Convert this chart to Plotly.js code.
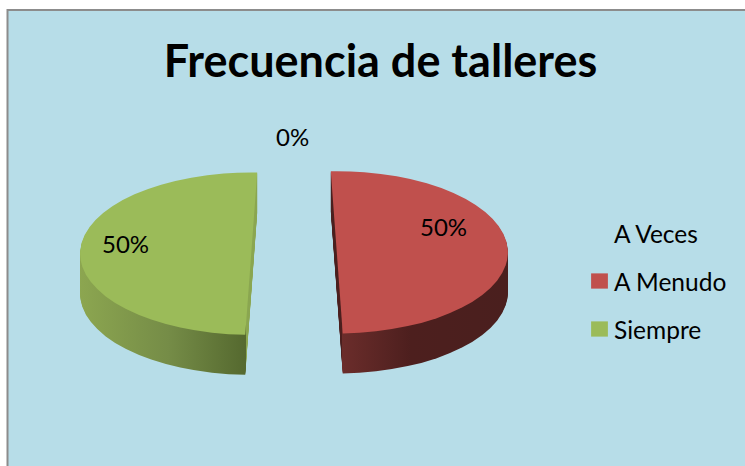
<!DOCTYPE html>
<html>
<head>
<meta charset="utf-8">
<script src="https://cdn.plot.ly/plotly-3.0.1.min.js"></script>
<style>html,body{margin:0;padding:0;background:#fff;overflow:hidden}#chart{width:745px;height:466px}</style>
</head>
<body>
<div id="chart"></div>
<script>
var chartTitle = 'Frecuencia de talleres';
var categories = ['A Veces', 'A Menudo', 'Siempre'];
var values = [0, 50, 50];
var sliceColors = ['rgba(0,0,0,0)', '#C0504D', '#9BBB59'];
var labelPixels = [[292, 136], [443, 226], [125, 243]];
var W = 745, H = 466;
var tilt = 0.474, depth = 40, centerY = 253, mirrorTurn = 4;

var total = values.reduce(function (a, b) { return a + b; }, 0);
var annotations = categories.map(function (c, i) {
  return {
    xref: 'paper', yref: 'paper',
    x: labelPixels[i][0] / W, y: 1 - labelPixels[i][1] / H,
    xanchor: 'center', yanchor: 'middle', showarrow: false,
    text: Math.round(values[i] / total * 100) + '%',
    font: { family: 'Lato, sans-serif', size: 24, color: '#000' }
  };
});

var data = [{
  type: 'pie',
  labels: categories,
  values: values,
  sort: false,
  direction: 'clockwise',
  rotation: -2,
  pull: 0.25,
  textinfo: 'none',
  hoverinfo: 'none',
  marker: { colors: sliceColors, line: { width: 0 } },
  domain: { x: [80 / W, 508 / W], y: [0, 1] }
}];

var layout = {
  width: W, height: H,
  margin: { l: 0, r: 0, t: 0, b: 0 },
  paper_bgcolor: '#ffffff',
  title: {
    text: '<b>' + chartTitle + '</b>',
    x: 380.5 / W, xanchor: 'center', xref: 'paper',
    y: 1 - 61 / H, yanchor: 'middle', yref: 'paper',
    font: { family: 'Lato, sans-serif', size: 45, color: '#000' }
  },
  shapes: [{
    type: 'rect', xref: 'paper', yref: 'paper', layer: 'below',
    x0: 7.5 / W, x1: 1.02, y0: -0.02, y1: 1 - 10 / H,
    fillcolor: '#B7DDE8', line: { color: '#8C8C8C', width: 2 }
  }],
  annotations: annotations,
  showlegend: true,
  legend: {
    x: 570 / W, y: 1 - 216 / H, xanchor: 'left', yanchor: 'top',
    bgcolor: 'rgba(0,0,0,0)',
    font: { family: 'Lato, sans-serif', size: 24.5, color: '#000' }
  }
};

var svgNS = 'http://www.w3.org/2000/svg';
function addGradient(svg, id, stops, attrs) {
  var defs = svg.querySelector('defs') || svg.insertBefore(document.createElementNS(svgNS, 'defs'), svg.firstChild);
  var g = document.createElementNS(svgNS, 'linearGradient');
  g.setAttribute('id', id);
  Object.keys(attrs).forEach(function (k) { g.setAttribute(k, attrs[k]); });
  stops.forEach(function (s) {
    var st = document.createElementNS(svgNS, 'stop');
    st.setAttribute('offset', s[0]); st.setAttribute('stop-color', s[1]);
    g.appendChild(st);
  });
  defs.appendChild(g);
}

Plotly.newPlot('chart', data, layout, { staticPlot: true, displayModeBar: false }).then(function (gd) {
  var svg = gd.querySelector('.main-svg');
  var pieLayer = gd.querySelector('.pielayer');
  var trace = pieLayer.querySelector('.trace');

  function isRed(p) { return /192|c0504d/i.test(p.style.fill); }
  function isGreen(p) { return /155|9bbb59/i.test(p.style.fill); }

  // turn the green slice about its own apex so its cut edge mirrors the red one
  var apex = null;
  trace.querySelectorAll('.slice path').forEach(function (p) {
    if (!isGreen(p)) return;
    var m = p.getAttribute('d').match(/M\s*([-\d.]+)[ ,]+([-\d.]+)/);
    apex = [parseFloat(m[1]), parseFloat(m[2])];
    p.parentNode.setAttribute('transform', 'rotate(' + mirrorTurn + ' ' + apex[0] + ' ' + apex[1] + ')');
  });

  addGradient(svg, 'sideRed',
    [[0, '#4A1F1E'], [0.062, '#4A1F1E'], [0.063, '#6B2D2B'], [0.45, '#4D1F1E'], [1, '#4A1F1E']],
    { x1: 0, x2: 1, y1: 0, y2: 0 });
  addGradient(svg, 'sideGreen',
    [[0, '#8CA650'], [0.5, '#758C47'], [0.937, '#55692F'], [0.938, '#8AA650'], [1, '#8AA650']],
    { gradientUnits: 'userSpaceOnUse', x1: 80, x2: 257, y1: 0, y2: 0,
      gradientTransform: 'rotate(' + (-mirrorTurn) + ' ' + apex[0] + ' ' + apex[1] + ')' });

  // extrude the library's own slices downwards
  var wrapper = document.createElementNS(svgNS, 'g');
  for (var k = depth; k >= 1; k--) {
    var c = trace.cloneNode(true);
    var w = document.createElementNS(svgNS, 'g');
    w.setAttribute('transform', 'translate(0,' + (k / tilt) + ')');
    c.querySelectorAll('.slice path').forEach(function (p) {
      var r = isRed(p), g = isGreen(p);
      if (r) p.style.fill = 'url(#sideRed)';
      else if (g) p.style.fill = 'url(#sideGreen)';
      p.style.fillOpacity = (r || g) ? 1 : 0;
    });
    w.appendChild(c);
    wrapper.appendChild(w);
  }
  pieLayer.insertBefore(wrapper, trace);
  pieLayer.setAttribute('transform',
    'translate(0,' + centerY + ') scale(1,' + tilt + ') translate(0,' + (-H / 2) + ')');

  // legend spacing and swatches
  var scroll = gd.querySelector('.legend .scrollbox');
  if (scroll) scroll.removeAttribute('clip-path');
  var legendRoot = gd.querySelector('.legend');
  var lt = legendRoot.getAttribute('transform').match(/translate\(([-\d.]+),\s*([-\d.]+)\)/);
  var lx = parseFloat(lt[1]), ly = parseFloat(lt[2]);
  var rowY = [233, 281, 329];
  gd.querySelectorAll('.legend .traces').forEach(function (t, i) {
    t.setAttribute('transform', 'translate(0,' + (rowY[i] - ly) + ')');
    t.querySelector('text').setAttribute('x', 614 - lx);
    var pts = t.querySelector('.legendpoints');
    if (pts) pts.setAttribute('transform', 'translate(' + (599.5 - lx) + ',0) scale(1.4,1.27)');
    t.querySelectorAll('.legendpoints path').forEach(function (p) { p.setAttribute('transform', 'translate(0,0)'); });
  });
});
</script>
</body>
</html>
